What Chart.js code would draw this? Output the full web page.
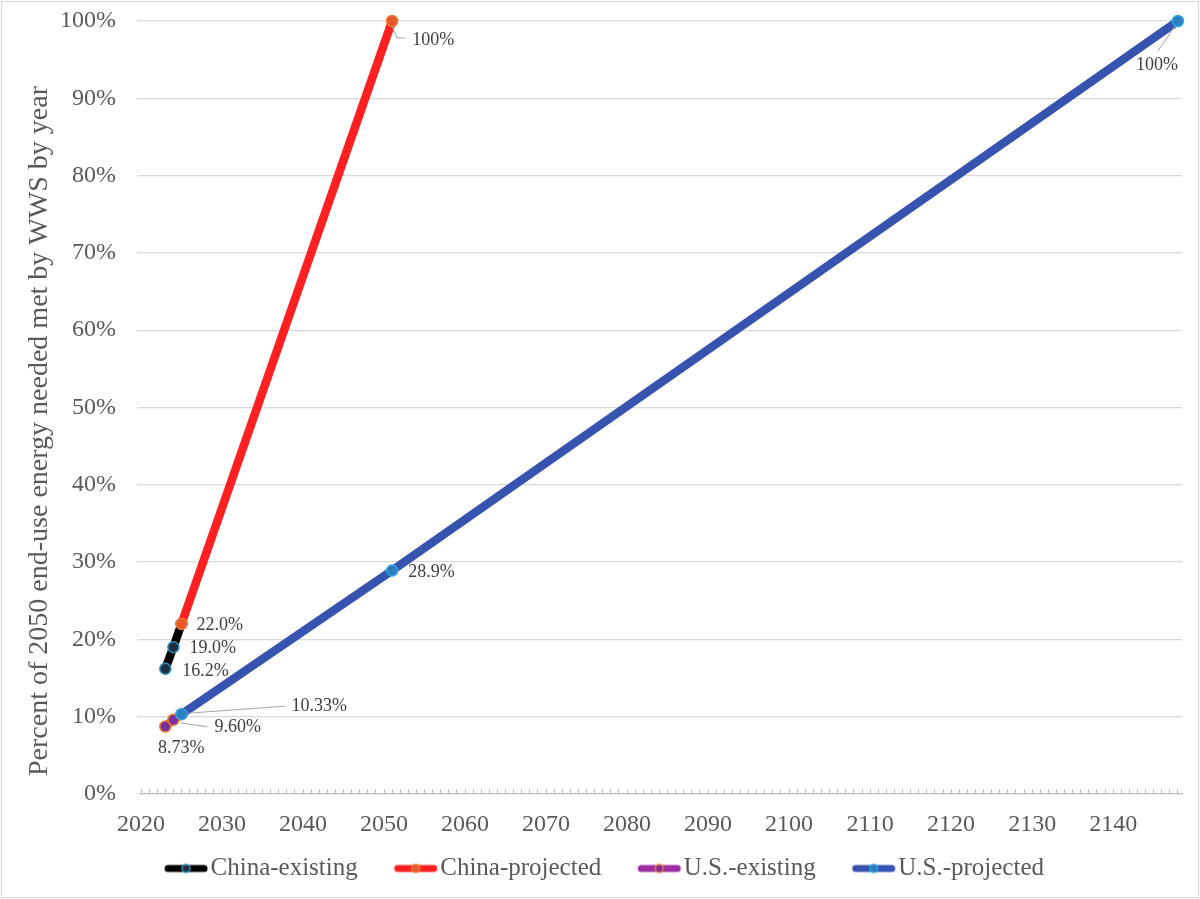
<!DOCTYPE html>
<html>
<head>
<meta charset="utf-8">
<script src="https://cdn.jsdelivr.net/npm/chart.js@4.4.1/dist/chart.umd.min.js"></script>
<style>
  html, body { margin: 0; padding: 0; background: #fff; }
</style>
</head>
<body>
<canvas id="myChart" width="1200" height="899"></canvas>
<script>
// Share of 2050 end-use energy met by WWS, China vs U.S.

const seriesNames = ['China-existing', 'China-projected', 'U.S.-existing', 'U.S.-projected']

const chinaExistingYears = [2023, 2024, 2025]
const chinaExistingShare = [16.2, 19.0, 22.0]
const chinaProjectedYears = [2025, 2051]
const chinaProjectedShare = [22.0, 100]
const usExistingYears = [2023, 2024, 2025]
const usExistingShare = [8.73, 9.60, 10.33]
const usProjectedYears = [2025, 2051, 2148]
const usProjectedShare = [10.33, 28.9, 100]

const chinaExistingLabels = ['16.2%', '19.0%', null]
const chinaProjectedLabels = ['22.0%', '100%']
const usExistingLabels = ['8.73%', '9.60%', null]
const usProjectedLabels = ['10.33%', '28.9%', '100%']

const yearMin = 2020
const yearMax = 2148.5

const yTitle = 'Percent of 2050 end-use energy needed met by WWS by year'

// where each value label sits relative to its point (px), plus leader lines
const labelPlacement = [
  [{dx: 17, dy: 2}, {dx: 16, dy: 1}, null],
  [{dx: 15, dy: 1}, {dx: 20, dy: 19, leader: [[0, 5], [5, 17], [14, 17]]}],
  [{dx: 16, dy: 22, align: 'center'}, {dx: 41, dy: 7, leader: [[7, 3], [34, 7]]}, null],
  [{dx: 110, dy: -8, leader: [[7, -1], [104, -8]]}, {dx: 16, dy: 2},
   {dx: -21, dy: 44, align: 'center', leader: [[-3, 5], [-20, 30]]}]
]

const serif = "'Liberation Serif', 'Times New Roman', serif"
const grey = '#595959'

const lineColors = ['#000000', '#ff2121', '#9c2ea0', '#3653b0']
const markerFill = ['#203040', '#e8562e', '#7a2fa0', '#2e7dc0']
const markerEdge = ['#2a8fbd', '#f07a2c', '#ed7d31', '#2aa6e0']

const toPoints = (xs, ys) => xs.map((x, i) => ({x: x, y: ys[i]}))
const pointSets = [
  toPoints(chinaExistingYears, chinaExistingShare),
  toPoints(chinaProjectedYears, chinaProjectedShare),
  toPoints(usExistingYears, usExistingShare),
  toPoints(usProjectedYears, usProjectedShare)
]
const labelSets = [chinaExistingLabels, chinaProjectedLabels, usExistingLabels, usProjectedLabels]

// legend icon: thick line with a marker, transparent on the left for item spacing
function makeIcon(i) {
  const c = document.createElement('canvas')
  c.width = 92
  c.height = 14
  const g = c.getContext('2d')
  g.strokeStyle = lineColors[i]
  g.lineWidth = 7
  g.lineCap = 'round'
  g.beginPath()
  g.moveTo(46, 7)
  g.lineTo(82, 7)
  g.stroke()
  g.beginPath()
  g.arc(64, 7, 4, 0, Math.PI * 2)
  g.fillStyle = markerFill[i]
  g.fill()
  g.lineWidth = 1.5
  g.strokeStyle = markerEdge[i]
  g.stroke()
  return c
}
const icons = seriesNames.map((n, i) => makeIcon(i))

const frame = {
  id: 'frame',
  beforeDraw(chart) {
    const c = chart.ctx
    c.save()
    c.fillStyle = '#fff'
    c.fillRect(0, 0, chart.width, chart.height)
    c.strokeStyle = '#d9d9d9'
    c.lineWidth = 1
    c.strokeRect(1.5, 1.5, chart.width - 3, chart.height - 3)
    // y axis title, placed like the original
    c.translate(40, 431)
    c.rotate(-Math.PI / 2)
    c.font = '28px ' + serif
    c.fillStyle = grey
    c.textAlign = 'center'
    c.textBaseline = 'middle'
    c.fillText(yTitle, 0, 0)
    c.restore()
  }
}

const valueLabels = {
  id: 'valueLabels',
  afterDatasetsDraw(chart) {
    const c = chart.ctx
    c.save()
    c.font = '18px ' + serif
    c.textBaseline = 'middle'
    labelSets.forEach((labels, d) => {
      const meta = chart.getDatasetMeta(d)
      labels.forEach((txt, i) => {
        if (!txt) return
        const pt = meta.data[i]
        const pl = labelPlacement[d][i]
        if (pl.leader) {
          c.strokeStyle = '#a6a6a6'
          c.lineWidth = 1
          c.beginPath()
          pl.leader.forEach(([lx, ly], k) => {
            if (k === 0) c.moveTo(pt.x + lx, pt.y + ly)
            else c.lineTo(pt.x + lx, pt.y + ly)
          })
          c.stroke()
        }
        c.fillStyle = '#404040'
        c.textAlign = pl.align || 'left'
        c.fillText(txt, pt.x + pl.dx, pt.y + pl.dy)
      })
    })
    c.restore()
  }
}

const data = {
  datasets: pointSets.map((pts, i) => ({
    label: seriesNames[i],
    data: pts,
    borderColor: lineColors[i],
    backgroundColor: markerFill[i],
    pointBackgroundColor: markerFill[i],
    pointBorderColor: markerEdge[i],
    pointBorderWidth: 1.5,
    pointRadius: 5.5,
    borderWidth: 8.5,
    showLine: true,
    clip: 12,
    order: 4 - i
  }))
}

const options = {
  responsive: false,
  animation: false,
  layout: {padding: {top: 21, right: 18, left: 0, bottom: 8}},
  plugins: {
    tooltip: {enabled: false},
    legend: {
      position: 'bottom',
      labels: {
        usePointStyle: true,
        pointStyleWidth: 60,
        padding: 10,
        color: grey,
        font: {family: serif, size: 25},
        sort: (a, b) => a.datasetIndex - b.datasetIndex,
        generateLabels(chart) {
          const items = Chart.defaults.plugins.legend.labels.generateLabels(chart)
          items.forEach(it => { it.pointStyle = icons[it.datasetIndex] })
          return items
        }
      }
    }
  },
  scales: {
    x: {
      type: 'linear',
      min: yearMin,
      max: yearMax,
      afterFit(scale) { scale.height = 52 },
      ticks: {
        stepSize: 1,
        autoSkip: false,
        maxRotation: 0,
        includeBounds: false,
        padding: 21,
        color: grey,
        font: {family: serif, size: 24},
        callback: v => (v % 10 === 0 ? String(v) : '')
      },
      grid: {drawOnChartArea: false, tickLength: -5, tickColor: '#bfbfbf'},
      border: {color: '#bfbfbf', width: 1.3}
    },
    y: {
      min: 0,
      max: 100,
      afterFit(scale) {
        scale.width = 141
        scale.paddingTop = 0
        scale.paddingBottom = 0
      },
      ticks: {
        stepSize: 10,
        padding: 21,
        color: grey,
        font: {family: serif, size: 24},
        callback: v => v + '%'
      },
      grid: {color: '#d9d9d9', lineWidth: 1.3, tickLength: 4},
      border: {display: false}
    }
  }
}

const config = {
  type: 'scatter',
  data: data,
  options: options,
  plugins: [frame, valueLabels]
}

const chart = new Chart(document.querySelector('#myChart'), config)
</script>
</body>
</html>
